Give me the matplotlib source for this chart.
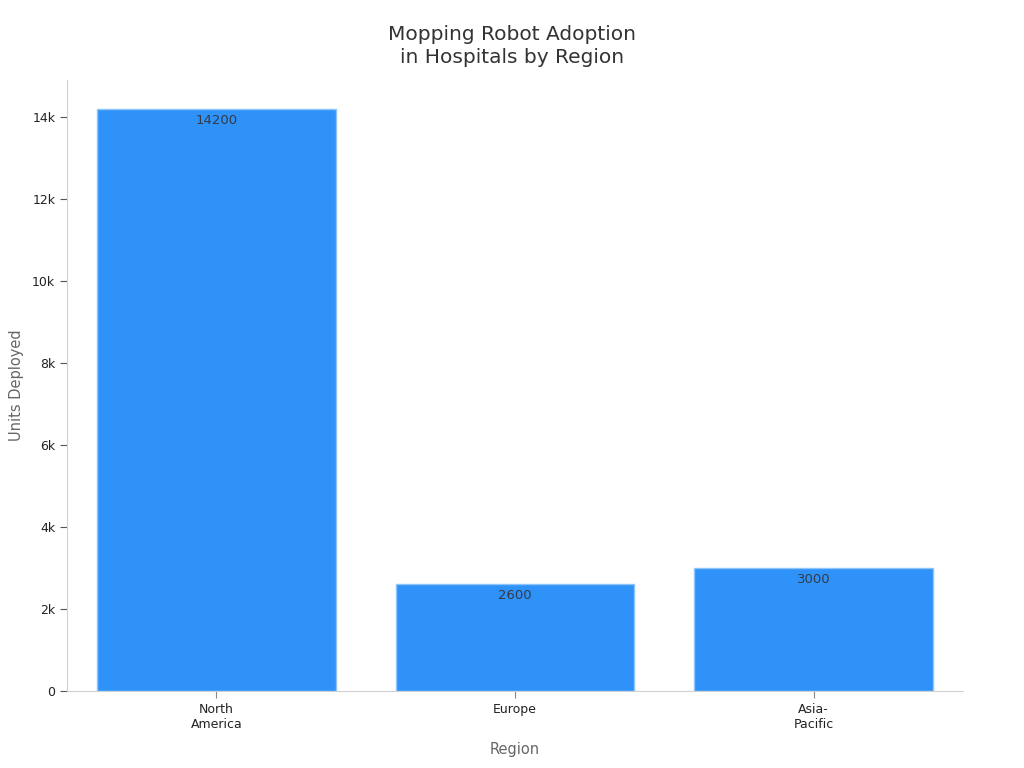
import matplotlib
matplotlib.use("Agg")
import matplotlib.pyplot as plt
from matplotlib.ticker import FuncFormatter

regions = ["North\nAmerica", "Europe", "Asia-\nPacific"]
units = [14200, 2600, 3000]

fig = plt.figure(figsize=(10.24, 7.68), dpi=100)
ax = fig.add_axes([67/1024, 1-691/768, (963-67)/1024, (691-80)/768])

bars = ax.bar(range(len(regions)), units, width=0.8, color="#2f92f9",
              edgecolor="#8cc4fb", linewidth=1)
for b, v in zip(bars, units):
    ax.text(b.get_x() + b.get_width()/2, v - 120, str(v), ha="center", va="top",
            fontsize=9.5, color="#333a45")

ax.set_xlim(-0.5, 2.5)
ax.set_ylim(0, 14910)
ax.set_xticks(range(len(regions)))
ax.set_xticklabels(regions, fontsize=9, color="#222222")
ax.set_yticks(range(0, 14001, 2000))
ax.yaxis.set_major_formatter(FuncFormatter(lambda v, p: "0" if v == 0 else f"{int(v/1000)}k"))
ax.tick_params(axis="y", labelsize=9, colors="#555555", labelcolor="#222222", length=5)
ax.tick_params(axis="x", colors="#888888", labelcolor="#222222", length=5)
for s in ["top", "right"]:
    ax.spines[s].set_visible(False)
for s in ["left", "bottom"]:
    ax.spines[s].set_color("#d0d0d0")

ax.set_xlabel("Region", fontsize=10.5, color="#666666", labelpad=8)
ax.set_ylabel("Units Deployed", fontsize=10.5, color="#666666", labelpad=6)
fig.text(512/1024, 1-46/768, "Mopping Robot Adoption\nin Hospitals by Region", ha="center",
         va="center", fontsize=14.5, color="#333333", linespacing=1.3)

fig.savefig("out.png", dpi=100)
